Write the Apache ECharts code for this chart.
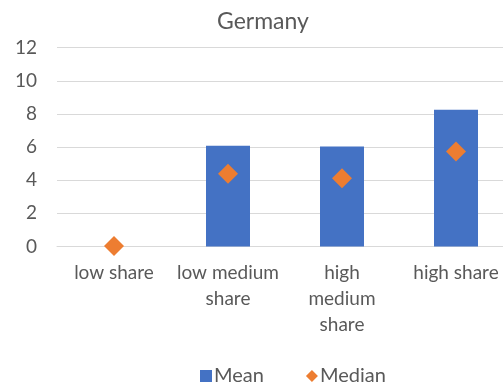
<!DOCTYPE html>
<html>
<head>
<meta charset="utf-8">
<script src="https://cdn.jsdelivr.net/npm/echarts@6/dist/echarts.min.js"></script>
<style>html,body{margin:0;padding:0;background:#fff}#c{width:503px;height:385px}</style>
</head>
<body>
<div id="c"></div>
<script>
var categories = ['low share', 'low medium share', 'high medium share', 'high share'];
var tickLabels = ['low share', 'low medium\nshare', 'high\nmedium\nshare', 'high share'];
var meanValues = [0, 6.08, 6.04, 8.26];
var medianValues = [0.03, 4.39, 4.12, 5.74];
var yTicks = [0, 2, 4, 6, 8, 10, 12];

var chart = echarts.init(document.getElementById('c'));
var font = 'Lato, "Open Sans", sans-serif';
chart.setOption({
  animation: false,
  textStyle: {fontFamily: font},
  title: {
    text: 'Germany', left: 212, top: 5,
    textStyle: {fontFamily: font, fontSize: 23, fontWeight: 'normal', color: '#595959'}
  },
  grid: {left: 57, width: 456, top: 47.7, height: 198.8, containLabel: false, outerBoundsMode: 'none'},
  legend: {
    top: 361, left: 195, itemWidth: 12, itemHeight: 12, itemGap: 42,
    textStyle: {fontFamily: font, fontSize: 20, color: '#595959', padding: [0,0,0,-3]},
    data: [{name: 'Mean', icon: 'rect'}, {name: 'Median', icon: 'diamond'}]
  },
  xAxis: {
    type: 'category', data: categories,
    axisLine: {show: true, lineStyle: {color: '#D9D9D9'}},
    axisTick: {show: false},
    axisLabel: {
      interval: 0, margin: 13, color: '#595959', fontSize: 19, lineHeight: 26, fontFamily: font,
      formatter: function (v, i) { return tickLabels[i]; }
    }
  },
  yAxis: {
    type: 'value', min: yTicks[0], max: yTicks[yTicks.length - 1], interval: 2,
    axisLine: {show: false}, axisTick: {show: false},
    splitLine: {lineStyle: {color: '#D9D9D9', width: 1}},
    axisLabel: {margin: 20, color: '#595959', fontSize: 19, fontFamily: font}
  },
  series: [
    {name: 'Mean', type: 'bar', data: meanValues, barWidth: 44,
     itemStyle: {color: '#4472C4'}},
    {name: 'Median', type: 'scatter', data: medianValues, symbol: 'diamond', symbolSize: 20,
     itemStyle: {color: '#ED7D31', opacity: 1}, z: 5}
  ]
});
</script>
</body>
</html>
